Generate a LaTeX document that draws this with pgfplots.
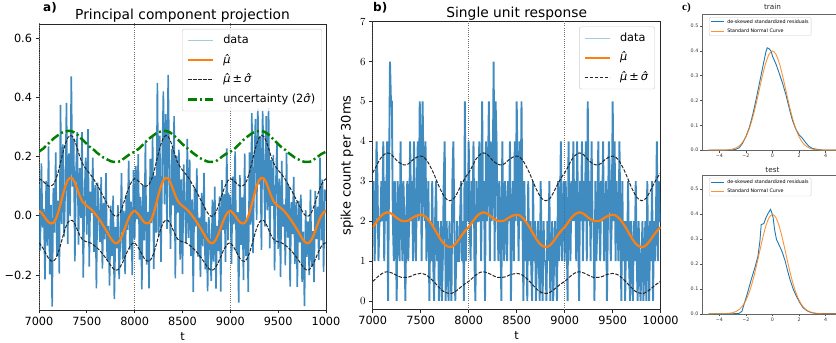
\documentclass[border=0pt]{standalone}
\usepackage{pgfplots}
\pgfplotsset{compat=1.18}
\usepackage{pgfplotstable}
\usepackage{fontspec}
\setmainfont{DejaVu Sans}
\newfontfamily\cserif{Liberation Serif}
\definecolor{tabblue}{RGB}{31,119,180}
\definecolor{taborange}{RGB}{255,127,14}
\definecolor{mplgreen}{RGB}{0,128,0}
\newcommand{\muhat}{\textit{^^^^03bc^^^^0302}}
\newcommand{\sighat}{\textit{^^^^03c3^^^^0302}}

\pgfplotstableread{
t mu up lo unc
7000 0.017 0.125 -0.091 0.216
7025 0.010 0.121 -0.101 0.222
7050 0.000 0.114 -0.114 0.228
7075 -0.012 0.106 -0.130 0.236
7100 -0.022 0.100 -0.144 0.244
7125 -0.026 0.100 -0.152 0.252
7150 -0.024 0.106 -0.154 0.260
7175 -0.012 0.121 -0.145 0.266
7200 0.010 0.146 -0.126 0.272
7225 0.040 0.179 -0.099 0.278
7250 0.072 0.213 -0.069 0.282
7275 0.100 0.242 -0.042 0.284
7300 0.120 0.263 -0.023 0.286
7325 0.128 0.271 -0.015 0.286
7350 0.126 0.268 -0.016 0.284
7375 0.112 0.252 -0.028 0.280
7400 0.090 0.227 -0.047 0.274
7425 0.068 0.201 -0.065 0.266
7450 0.050 0.179 -0.079 0.258
7475 0.040 0.165 -0.085 0.250
7500 0.033 0.154 -0.088 0.242
7525 0.027 0.144 -0.090 0.234
7550 0.020 0.134 -0.094 0.228
7575 0.011 0.122 -0.100 0.222
7600 0.001 0.108 -0.106 0.214
7625 -0.010 0.094 -0.114 0.208
7650 -0.022 0.079 -0.123 0.202
7675 -0.035 0.063 -0.133 0.196
7700 -0.048 0.048 -0.144 0.192
7725 -0.062 0.032 -0.156 0.188
7750 -0.076 0.016 -0.168 0.184
7775 -0.087 0.004 -0.178 0.182
7800 -0.093 -0.002 -0.184 0.182
7825 -0.091 0.000 -0.182 0.182
7850 -0.080 0.012 -0.172 0.184
7875 -0.062 0.033 -0.157 0.190
7900 -0.040 0.058 -0.138 0.196
7925 -0.018 0.083 -0.119 0.202
7950 0.000 0.104 -0.104 0.208
7975 0.012 0.118 -0.094 0.212
8000 0.017 0.125 -0.091 0.216
8025 0.010 0.121 -0.101 0.222
8050 0.000 0.114 -0.114 0.228
8075 -0.012 0.106 -0.130 0.236
8100 -0.022 0.100 -0.144 0.244
8125 -0.026 0.100 -0.152 0.252
8150 -0.024 0.106 -0.154 0.260
8175 -0.012 0.121 -0.145 0.266
8200 0.010 0.146 -0.126 0.272
8225 0.040 0.179 -0.099 0.278
8250 0.072 0.213 -0.069 0.282
8275 0.100 0.242 -0.042 0.284
8300 0.120 0.263 -0.023 0.286
8325 0.128 0.271 -0.015 0.286
8350 0.126 0.268 -0.016 0.284
8375 0.112 0.252 -0.028 0.280
8400 0.090 0.227 -0.047 0.274
8425 0.068 0.201 -0.065 0.266
8450 0.050 0.179 -0.079 0.258
8475 0.040 0.165 -0.085 0.250
8500 0.033 0.154 -0.088 0.242
8525 0.027 0.144 -0.090 0.234
8550 0.020 0.134 -0.094 0.228
8575 0.011 0.122 -0.100 0.222
8600 0.001 0.108 -0.106 0.214
8625 -0.010 0.094 -0.114 0.208
8650 -0.022 0.079 -0.123 0.202
8675 -0.035 0.063 -0.133 0.196
8700 -0.048 0.048 -0.144 0.192
8725 -0.062 0.032 -0.156 0.188
8750 -0.076 0.016 -0.168 0.184
8775 -0.087 0.004 -0.178 0.182
8800 -0.093 -0.002 -0.184 0.182
8825 -0.091 0.000 -0.182 0.182
8850 -0.080 0.012 -0.172 0.184
8875 -0.062 0.033 -0.157 0.190
8900 -0.040 0.058 -0.138 0.196
8925 -0.018 0.083 -0.119 0.202
8950 0.000 0.104 -0.104 0.208
8975 0.012 0.118 -0.094 0.212
9000 0.017 0.125 -0.091 0.216
9025 0.010 0.121 -0.101 0.222
9050 0.000 0.114 -0.114 0.228
9075 -0.012 0.106 -0.130 0.236
9100 -0.022 0.100 -0.144 0.244
9125 -0.026 0.100 -0.152 0.252
9150 -0.024 0.106 -0.154 0.260
9175 -0.012 0.121 -0.145 0.266
9200 0.010 0.146 -0.126 0.272
9225 0.040 0.179 -0.099 0.278
9250 0.072 0.213 -0.069 0.282
9275 0.100 0.242 -0.042 0.284
9300 0.120 0.263 -0.023 0.286
9325 0.128 0.271 -0.015 0.286
9350 0.126 0.268 -0.016 0.284
9375 0.112 0.252 -0.028 0.280
9400 0.090 0.227 -0.047 0.274
9425 0.068 0.201 -0.065 0.266
9450 0.050 0.179 -0.079 0.258
9475 0.040 0.165 -0.085 0.250
9500 0.033 0.154 -0.088 0.242
9525 0.027 0.144 -0.090 0.234
9550 0.020 0.134 -0.094 0.228
9575 0.011 0.122 -0.100 0.222
9600 0.001 0.108 -0.106 0.214
9625 -0.010 0.094 -0.114 0.208
9650 -0.022 0.079 -0.123 0.202
9675 -0.035 0.063 -0.133 0.196
9700 -0.048 0.048 -0.144 0.192
9725 -0.062 0.032 -0.156 0.188
9750 -0.076 0.016 -0.168 0.184
9775 -0.087 0.004 -0.178 0.182
9800 -0.093 -0.002 -0.184 0.182
9825 -0.091 0.000 -0.182 0.182
9850 -0.080 0.012 -0.172 0.184
9875 -0.062 0.033 -0.157 0.190
9900 -0.040 0.058 -0.138 0.196
9925 -0.018 0.083 -0.119 0.202
9950 0.000 0.104 -0.104 0.208
9975 0.012 0.118 -0.094 0.212
10000 0.017 0.125 -0.091 0.216
}\modela

\pgfplotstableread{
t mu up lo
7000 1.85 3.21 0.49
7025 1.93 3.32 0.54
7050 2.02 3.44 0.60
7075 2.10 3.55 0.65
7100 2.16 3.63 0.69
7125 2.20 3.68 0.72
7150 2.22 3.71 0.73
7175 2.21 3.70 0.72
7200 2.18 3.66 0.70
7225 2.13 3.59 0.67
7250 2.08 3.52 0.64
7275 2.04 3.47 0.61
7300 2.01 3.43 0.59
7325 2.00 3.41 0.59
7350 2.00 3.41 0.59
7375 2.02 3.44 0.60
7400 2.06 3.50 0.62
7425 2.10 3.55 0.65
7450 2.13 3.59 0.67
7475 2.15 3.62 0.68
7500 2.16 3.63 0.69
7525 2.15 3.62 0.68
7550 2.11 3.56 0.66
7575 2.05 3.48 0.62
7600 1.97 3.37 0.57
7625 1.88 3.25 0.51
7650 1.78 3.11 0.45
7675 1.67 2.96 0.38
7700 1.57 2.82 0.32
7725 1.48 2.70 0.26
7750 1.41 2.60 0.22
7775 1.37 2.54 0.20
7800 1.35 2.51 0.19
7825 1.36 2.53 0.19
7850 1.40 2.58 0.22
7875 1.47 2.68 0.26
7900 1.55 2.80 0.31
7925 1.64 2.92 0.36
7950 1.72 3.03 0.41
7975 1.79 3.13 0.45
8000 1.85 3.21 0.49
8025 1.93 3.32 0.54
8050 2.02 3.44 0.60
8075 2.10 3.55 0.65
8100 2.16 3.63 0.69
8125 2.20 3.68 0.72
8150 2.22 3.71 0.73
8175 2.21 3.70 0.72
8200 2.18 3.66 0.70
8225 2.13 3.59 0.67
8250 2.08 3.52 0.64
8275 2.04 3.47 0.61
8300 2.01 3.43 0.59
8325 2.00 3.41 0.59
8350 2.00 3.41 0.59
8375 2.02 3.44 0.60
8400 2.06 3.50 0.62
8425 2.10 3.55 0.65
8450 2.13 3.59 0.67
8475 2.15 3.62 0.68
8500 2.16 3.63 0.69
8525 2.15 3.62 0.68
8550 2.11 3.56 0.66
8575 2.05 3.48 0.62
8600 1.97 3.37 0.57
8625 1.88 3.25 0.51
8650 1.78 3.11 0.45
8675 1.67 2.96 0.38
8700 1.57 2.82 0.32
8725 1.48 2.70 0.26
8750 1.41 2.60 0.22
8775 1.37 2.54 0.20
8800 1.35 2.51 0.19
8825 1.36 2.53 0.19
8850 1.40 2.58 0.22
8875 1.47 2.68 0.26
8900 1.55 2.80 0.31
8925 1.64 2.92 0.36
8950 1.72 3.03 0.41
8975 1.79 3.13 0.45
9000 1.85 3.21 0.49
9025 1.93 3.32 0.54
9050 2.02 3.44 0.60
9075 2.10 3.55 0.65
9100 2.16 3.63 0.69
9125 2.20 3.68 0.72
9150 2.22 3.71 0.73
9175 2.21 3.70 0.72
9200 2.18 3.66 0.70
9225 2.13 3.59 0.67
9250 2.08 3.52 0.64
9275 2.04 3.47 0.61
9300 2.01 3.43 0.59
9325 2.00 3.41 0.59
9350 2.00 3.41 0.59
9375 2.02 3.44 0.60
9400 2.06 3.50 0.62
9425 2.10 3.55 0.65
9450 2.13 3.59 0.67
9475 2.15 3.62 0.68
9500 2.16 3.63 0.69
9525 2.15 3.62 0.68
9550 2.11 3.56 0.66
9575 2.05 3.48 0.62
9600 1.97 3.37 0.57
9625 1.88 3.25 0.51
9650 1.78 3.11 0.45
9675 1.67 2.96 0.38
9700 1.57 2.82 0.32
9725 1.48 2.70 0.26
9750 1.41 2.60 0.22
9775 1.37 2.54 0.20
9800 1.35 2.51 0.19
9825 1.36 2.53 0.19
9850 1.40 2.58 0.22
9875 1.47 2.68 0.26
9900 1.55 2.80 0.31
9925 1.64 2.92 0.36
9950 1.72 3.03 0.41
9975 1.79 3.13 0.45
10000 1.85 3.21 0.49
}\modelb

\pgfplotstableread[row sep=\\]{
t y\\
7000 0.103\\ 7012.5 -0.118\\ 7025 0.177\\ 7037.5 -0.040\\ 7050 0.023\\ 7062.5 -0.215\\ 7075 0.118\\ 7087.5 -0.101\\
7100 0.234\\ 7112.5 -0.198\\ 7125 0.037\\ 7137.5 -0.307\\ 7150 0.093\\ 7162.5 -0.057\\ 7175 0.214\\ 7187.5 -0.136\\
7200 0.051\\ 7212.5 -0.195\\ 7225 0.374\\ 7237.5 -0.028\\ 7250 0.241\\ 7262.5 -0.070\\ 7275 0.100\\ 7287.5 0.381\\
7300 -0.095\\ 7312.5 0.210\\ 7325 -0.001\\ 7337.5 0.470\\ 7350 0.098\\ 7362.5 0.260\\ 7375 -0.154\\ 7387.5 0.156\\
7400 0.282\\ 7412.5 -0.097\\ 7425 0.161\\ 7437.5 -0.007\\ 7450 0.282\\ 7462.5 -0.209\\ 7475 0.053\\ 7487.5 0.196\\
7500 -0.064\\ 7512.5 0.292\\ 7525 -0.172\\ 7537.5 0.081\\ 7550 0.009\\ 7562.5 0.196\\ 7575 -0.122\\ 7587.5 0.104\\
7600 -0.245\\ 7612.5 0.112\\ 7625 0.011\\ 7637.5 -0.088\\ 7650 0.130\\ 7662.5 -0.178\\ 7675 0.043\\ 7687.5 -0.080\\
7700 0.144\\ 7712.5 -0.150\\ 7725 -0.034\\ 7737.5 -0.236\\ 7750 0.034\\ 7762.5 -0.136\\ 7775 0.068\\ 7787.5 -0.281\\
7800 -0.038\\ 7812.5 -0.110\\ 7825 0.036\\ 7837.5 -0.214\\ 7850 -0.080\\ 7862.5 0.144\\ 7875 -0.148\\ 7887.5 0.017\\
7900 -0.197\\ 7912.5 0.071\\ 7925 -0.048\\ 7937.5 0.186\\ 7950 -0.114\\ 7962.5 0.048\\ 7975 -0.200\\ 7987.5 0.154\\
8000 -0.080\\ 8012.5 0.167\\ 8025 -0.012\\ 8037.5 0.208\\ 8050 -0.148\\ 8062.5 0.064\\ 8075 -0.248\\ 8087.5 0.103\\
8100 -0.083\\ 8112.5 0.249\\ 8125 -0.165\\ 8137.5 0.013\\ 8150 -0.245\\ 8162.5 0.192\\ 8175 -0.025\\ 8187.5 0.268\\
8200 -0.180\\ 8212.5 0.135\\ 8225 -0.057\\ 8237.5 0.448\\ 8250 -0.069\\ 8262.5 0.270\\ 8275 -0.156\\ 8287.5 0.167\\
8300 0.420\\ 8312.5 0.038\\ 8325 0.343\\ 8337.5 -0.044\\ 8350 0.475\\ 8362.5 0.147\\ 8375 -0.112\\ 8387.5 0.226\\
8400 0.035\\ 8412.5 0.336\\ 8425 -0.211\\ 8437.5 0.203\\ 8450 0.011\\ 8462.5 0.223\\ 8475 -0.148\\ 8487.5 0.123\\
8500 -0.197\\ 8512.5 0.173\\ 8525 0.027\\ 8537.5 -0.092\\ 8550 0.259\\ 8562.5 -0.075\\ 8575 0.189\\ 8587.5 -0.136\\
8600 0.055\\ 8612.5 -0.258\\ 8625 0.094\\ 8637.5 -0.037\\ 8650 0.160\\ 8662.5 -0.138\\ 8675 -0.006\\ 8687.5 -0.206\\
8700 0.077\\ 8712.5 -0.103\\ 8725 0.145\\ 8737.5 -0.181\\ 8750 -0.021\\ 8762.5 -0.255\\ 8775 -0.005\\ 8787.5 -0.081\\
8800 -0.220\\ 8812.5 0.054\\ 8825 -0.155\\ 8837.5 0.098\\ 8850 -0.246\\ 8862.5 -0.034\\ 8875 -0.119\\ 8887.5 0.065\\
8900 -0.256\\ 8912.5 0.120\\ 8925 -0.048\\ 8937.5 0.073\\ 8950 -0.156\\ 8962.5 0.227\\ 8975 -0.083\\ 8987.5 0.068\\
9000 0.060\\ 9012.5 -0.162\\ 9025 0.132\\ 9037.5 -0.029\\ 9050 0.217\\ 9062.5 -0.122\\ 9075 0.012\\ 9087.5 -0.293\\
9100 0.137\\ 9112.5 -0.098\\ 9125 0.062\\ 9137.5 -0.217\\ 9150 0.210\\ 9162.5 -0.136\\ 9175 -0.012\\ 9187.5 -0.257\\
9200 0.214\\ 9212.5 -0.030\\ 9225 0.346\\ 9237.5 -0.126\\ 9250 0.157\\ 9262.5 0.327\\ 9275 -0.014\\ 9287.5 0.360\\
9300 0.106\\ 9312.5 0.267\\ 9325 -0.115\\ 9337.5 0.355\\ 9350 0.169\\ 9362.5 -0.036\\ 9375 0.336\\ 9387.5 0.018\\
9400 0.364\\ 9412.5 -0.110\\ 9425 0.188\\ 9437.5 0.033\\ 9450 0.205\\ 9462.5 -0.184\\ 9475 0.103\\ 9487.5 0.246\\
9500 -0.112\\ 9512.5 0.125\\ 9525 -0.207\\ 9537.5 0.185\\ 9550 -0.037\\ 9562.5 0.038\\ 9575 -0.167\\ 9587.5 0.213\\
9600 -0.074\\ 9612.5 0.101\\ 9625 -0.239\\ 9637.5 0.046\\ 9650 -0.062\\ 9662.5 0.131\\ 9675 -0.162\\ 9687.5 0.046\\
9700 -0.240\\ 9712.5 0.050\\ 9725 -0.090\\ 9737.5 0.071\\ 9750 -0.223\\ 9762.5 -0.054\\ 9775 -0.305\\ 9787.5 0.019\\
9800 -0.139\\ 9812.5 -0.019\\ 9825 -0.200\\ 9837.5 0.088\\ 9850 -0.172\\ 9862.5 -0.052\\ 9875 -0.224\\ 9887.5 0.084\\
9900 -0.079\\ 9912.5 0.031\\ 9925 -0.149\\ 9937.5 0.196\\ 9950 -0.083\\ 9962.5 0.122\\ 9975 -0.189\\ 9987.5 0.089\\
10000 0.050\\
}\dataa

\pgfplotstableread[row sep=\\]{
t c\\
7000 2\\ 7010 3\\ 7020 1\\ 7030 2\\ 7040 4\\ 7050 3\\ 7060 1\\ 7070 2\\ 7080 2\\ 7090 3\\
7100 2\\ 7110 4\\ 7120 1\\ 7130 3\\ 7140 2\\ 7150 4\\ 7160 0\\ 7170 3\\ 7180 6\\ 7190 5\\
7200 5\\ 7210 2\\ 7220 1\\ 7230 3\\ 7240 2\\ 7250 0\\ 7260 3\\ 7270 2\\ 7280 1\\ 7290 4\\
7300 2\\ 7310 1\\ 7320 3\\ 7330 2\\ 7340 0\\ 7350 2\\ 7360 3\\ 7370 1\\ 7380 2\\ 7390 4\\
7400 2\\ 7410 3\\ 7420 1\\ 7430 4\\ 7440 2\\ 7450 1\\ 7460 3\\ 7470 4\\ 7480 2\\ 7490 5\\
7500 4\\ 7510 1\\ 7520 5\\ 7530 3\\ 7540 2\\ 7550 4\\ 7560 1\\ 7570 2\\ 7580 3\\ 7590 0\\
7600 2\\ 7610 1\\ 7620 3\\ 7630 1\\ 7640 0\\ 7650 2\\ 7660 3\\ 7670 1\\ 7680 2\\ 7690 0\\
7700 1\\ 7710 2\\ 7720 0\\ 7730 1\\ 7740 3\\ 7750 4\\ 7760 0\\ 7770 2\\ 7780 1\\ 7790 0\\
7800 2\\ 7810 1\\ 7820 0\\ 7830 3\\ 7840 4\\ 7850 2\\ 7860 0\\ 7870 1\\ 7880 2\\ 7890 1\\
7900 1\\ 7910 2\\ 7920 3\\ 7930 1\\ 7940 2\\ 7950 0\\ 7960 5\\ 7970 1\\ 7980 3\\ 7990 2\\
8000 4\\ 8010 2\\ 8020 1\\ 8030 3\\ 8040 2\\ 8050 4\\ 8060 1\\ 8070 0\\ 8080 3\\ 8090 2\\
8100 2\\ 8110 4\\ 8120 3\\ 8130 1\\ 8140 5\\ 8150 2\\ 8160 3\\ 8170 0\\ 8180 4\\ 8190 2\\
8200 3\\ 8210 5\\ 8220 1\\ 8230 4\\ 8240 2\\ 8250 3\\ 8260 6\\ 8270 1\\ 8280 5\\ 8290 4\\
8300 2\\ 8310 1\\ 8320 3\\ 8330 2\\ 8340 0\\ 8350 4\\ 8360 2\\ 8370 1\\ 8380 3\\ 8390 2\\
8400 1\\ 8410 3\\ 8420 2\\ 8430 4\\ 8440 0\\ 8450 2\\ 8460 3\\ 8470 1\\ 8480 4\\ 8490 2\\
8500 5\\ 8510 3\\ 8520 1\\ 8530 4\\ 8540 2\\ 8550 5\\ 8560 2\\ 8570 0\\ 8580 3\\ 8590 1\\
8600 2\\ 8610 0\\ 8620 3\\ 8630 1\\ 8640 2\\ 8650 1\\ 8660 0\\ 8670 3\\ 8680 1\\ 8690 2\\
8700 0\\ 8710 1\\ 8720 2\\ 8730 1\\ 8740 0\\ 8750 3\\ 8760 1\\ 8770 0\\ 8780 2\\ 8790 1\\
8800 1\\ 8810 0\\ 8820 2\\ 8830 1\\ 8840 3\\ 8850 0\\ 8860 1\\ 8870 2\\ 8880 0\\ 8890 1\\
8900 2\\ 8910 1\\ 8920 0\\ 8930 3\\ 8940 1\\ 8950 2\\ 8960 4\\ 8970 1\\ 8980 2\\ 8990 3\\
9000 1\\ 9010 3\\ 9020 2\\ 9030 0\\ 9040 4\\ 9050 2\\ 9060 1\\ 9070 3\\ 9080 2\\ 9090 4\\
9100 2\\ 9110 3\\ 9120 1\\ 9130 4\\ 9140 2\\ 9150 0\\ 9160 3\\ 9170 2\\ 9180 4\\ 9190 1\\
9200 3\\ 9210 2\\ 9220 4\\ 9230 1\\ 9240 5\\ 9250 2\\ 9260 3\\ 9270 1\\ 9280 4\\ 9290 2\\
9300 2\\ 9310 0\\ 9320 3\\ 9330 1\\ 9340 2\\ 9350 4\\ 9360 2\\ 9370 1\\ 9380 3\\ 9390 2\\
9400 4\\ 9410 1\\ 9420 2\\ 9430 3\\ 9440 0\\ 9450 2\\ 9460 4\\ 9470 3\\ 9480 1\\ 9490 2\\
9500 5\\ 9510 2\\ 9520 4\\ 9530 1\\ 9540 3\\ 9550 2\\ 9560 1\\ 9570 4\\ 9580 2\\ 9590 0\\
9600 3\\ 9610 1\\ 9620 2\\ 9630 0\\ 9640 2\\ 9650 1\\ 9660 3\\ 9670 1\\ 9680 0\\ 9690 2\\
9700 1\\ 9710 0\\ 9720 2\\ 9730 1\\ 9740 3\\ 9750 1\\ 9760 0\\ 9770 2\\ 9780 1\\ 9790 0\\
9800 1\\ 9810 2\\ 9820 0\\ 9830 1\\ 9840 2\\ 9850 0\\ 9860 3\\ 9870 1\\ 9880 0\\ 9890 2\\
9900 1\\ 9910 3\\ 9920 0\\ 9930 2\\ 9940 1\\ 9950 2\\ 9960 4\\ 9970 1\\ 9980 3\\ 9990 2\\
10000 2\\
}\datab

\pgfplotsset{
  mplbase/.style={
    scale only axis, anchor=south west,
    scaled x ticks=false, scaled y ticks=false,
    tick pos=left, tick align=outside,
    major tick length=3.5bp,
    axis line style={black!85, line width=0.8bp},
    every tick/.style={black!85, line width=0.8bp},
    ticklabel style={font=\fontsize{11.3bp}{13bp}\selectfont},
    label style={font=\fontsize{11.3bp}{13bp}\selectfont},
    every axis title/.style={at={(0.5,1)}, anchor=base, font=\fontsize{13.8bp}{16bp}\selectfont},
    legend cell align=left,
    legend style={draw=black!20, rounded corners=2bp, fill=white, fill opacity=0.8, text opacity=1,
      font=\fontsize{11.3bp}{13bp}\selectfont,
      nodes={text height=8.5bp, text depth=2.5bp, inner sep=2bp},
      row sep=4.6bp, inner xsep=4.5bp, inner ysep=4bp,
      /tikz/every odd column/.append style={column sep=7bp}},
    legend image code/.code={\draw[##1] (0bp,0bp) -- (25bp,0bp);},
  },
  smallbase/.style={
    scale only axis, anchor=south west,
    tick pos=left, tick align=outside,
    major tick length=2bp,
    axis line style={black!60, line width=0.5bp},
    every tick/.style={black!70, line width=0.5bp},
    ticklabel style={font=\fontsize{4.8bp}{5.5bp}\selectfont, text=black!80, inner sep=1.5bp},
    every axis title/.style={at={(0.5,1)}, anchor=base, font=\fontsize{7.3bp}{8.5bp}\selectfont, text=black!85},
    xmin=-5.3, xmax=5.3, ymin=-0.002,
    xtick={-4,-2,0,2,4}, xticklabels={−4,−2,0,2,4},
    ytick={0,0.1,0.2,0.3,0.4,0.5}, yticklabels={0.0,0.1,0.2,0.3,0.4,0.5},
    legend cell align=left,
    legend style={draw=black!20, rounded corners=1bp, fill=white, text opacity=1,
      font=\fontsize{4.8bp}{5.5bp}\selectfont,
      nodes={text height=3.6bp, text depth=1.1bp, inner sep=1bp},
      row sep=2.6bp, inner xsep=1.5bp, inner ysep=1bp,
      /tikz/every odd column/.append style={column sep=2bp}},
    legend image code/.code={\draw[##1] (0bp,0bp) -- (12.6bp,0bp);},
  },
}

\begin{document}
\begin{tikzpicture}
\useasboundingbox (0,0) rectangle (836bp,343bp);
\clip (0,0) rectangle (836bp,343bp);

% ---------- panel a ----------
\begin{axis}[mplbase,
  at={(39bp,33bp)}, width=287bp, height=286bp,
  xmin=7000, xmax=10000, ymin=-0.318, ymax=0.647,
  xtick={7000,7500,8000,8500,9000,9500,10000},
  xticklabels={7000,7500,8000,8500,9000,9500,1000},
  ytick={-0.2,0,0.2,0.4,0.6}, yticklabels={−0.2,0.0,0.2,0.4,0.6},
  xlabel={t},
  title={Principal component projection}, title style={yshift=4.5bp},
  legend style={at={(0.986,0.9825)}, anchor=north east},
]
\addplot[forget plot, black!55, line width=0.8bp, dash pattern=on 0.8bp off 1.4bp] coordinates {(7000,-1) (7000,1)};
\addplot[forget plot, black!55, line width=0.8bp, dash pattern=on 0.8bp off 1.4bp] coordinates {(8000,-1) (8000,1)};
\addplot[forget plot, black!55, line width=0.8bp, dash pattern=on 0.8bp off 1.4bp] coordinates {(9000,-1) (9000,1)};
\addplot[tabblue, draw opacity=0.85, line width=1.6bp, legend image post style={draw opacity=0.4, line width=0.9bp}] table[x=t, y=y] {\dataa};
\addlegendentry{data}
\addplot[taborange, line width=2.2bp] table[x=t, y=mu] {\modela};
\addlegendentry{\muhat}
\addplot[black!85, line width=1bp, dash pattern=on 3.5bp off 1.5bp] table[x=t, y=up] {\modela};
\addlegendentry{\muhat\,±\,\sighat}
\addplot[forget plot, black!85, line width=1bp, dash pattern=on 3.5bp off 1.5bp] table[x=t, y=lo] {\modela};
\addplot[mplgreen, line width=2.5bp, dash pattern=on 9bp off 3bp on 2bp off 3bp] table[x=t, y=unc] {\modela};
\addlegendentry{uncertainty (2\sighat)}
\end{axis}

% ---------- panel b ----------
\begin{axis}[mplbase,
  at={(372.7bp,33.7bp)}, width=288bp, height=287.6bp,
  xmin=7000, xmax=10000, ymin=-0.21, ymax=7,
  xtick={7000,7500,8000,8500,9000,9500,10000},
  xticklabels={7000,7500,8000,8500,9000,9500,10000},
  ytick={0,1,2,3,4,5,6,7},
  xlabel={t}, ylabel={spike count per 30ms},
  ylabel style={font=\fontsize{13bp}{15bp}\selectfont},
  title={Single unit response}, title style={yshift=4bp},
  legend style={at={(0.980,0.983)}, anchor=north east},
]
\addplot[forget plot, black!55, line width=0.8bp, dash pattern=on 0.8bp off 1.4bp] coordinates {(7000,-1) (7000,8)};
\addplot[forget plot, black!55, line width=0.8bp, dash pattern=on 0.8bp off 1.4bp] coordinates {(8000,-1) (8000,8)};
\addplot[forget plot, black!55, line width=0.8bp, dash pattern=on 0.8bp off 1.4bp] coordinates {(9000,-1) (9000,8)};
\addplot[tabblue, draw opacity=0.85, line width=1.9bp, legend image post style={draw opacity=0.4, line width=0.9bp}] table[x=t, y=c] {\datab};
\addlegendentry{data}
\addplot[taborange, line width=2.2bp] table[x=t, y=mu] {\modelb};
\addlegendentry{\muhat}
\addplot[black!85, line width=1bp, dash pattern=on 3.5bp off 1.5bp] table[x=t, y=up] {\modelb};
\addlegendentry{\muhat\,±\,\sighat}
\addplot[forget plot, black!85, line width=1bp, dash pattern=on 3.5bp off 1.5bp] table[x=t, y=lo] {\modelb};
\end{axis}

% ---------- panel c top ----------
\begin{axis}[smallbase,
  at={(702bp,192.3bp)}, width=141bp, height=136.7bp,
  ymax=0.548,
  title={train}, title style={yshift=4.6bp},
  legend style={at={(0.05,0.976)}, anchor=north west},
]
\addplot[tabblue, line width=0.9bp] coordinates {
(-4.8,0) (-3.5,0) (-3.0,0.001) (-2.75,0.004) (-2.5,0.010) (-2.25,0.028) (-2.0,0.055)
(-1.75,0.090) (-1.5,0.140) (-1.25,0.200) (-1.0,0.265) (-0.75,0.330) (-0.5,0.395)
(-0.4,0.412) (-0.25,0.408) (-0.1,0.398) (0.0,0.378) (0.25,0.348) (0.5,0.310)
(0.75,0.270) (1.0,0.225) (1.25,0.170) (1.5,0.120) (1.75,0.085) (2.0,0.062)
(2.25,0.048) (2.5,0.030) (2.75,0.015) (3.0,0.007) (3.5,0.002) (4.0,0) (5.3,0)};
\addlegendentry{de-skewed standardized residuals}
\addplot[taborange, line width=0.9bp, draw opacity=0.85, smooth] coordinates {
(-4.8,0) (-4.0,0.0001) (-3.5,0.0009) (-3.0,0.0044) (-2.75,0.0091) (-2.5,0.0175)
(-2.25,0.0317) (-2.0,0.0540) (-1.75,0.0863) (-1.5,0.1295) (-1.25,0.1826) (-1.0,0.2420)
(-0.75,0.3011) (-0.5,0.3521) (-0.25,0.3867) (0,0.3989) (0.25,0.3867) (0.5,0.3521)
(0.75,0.3011) (1.0,0.2420) (1.25,0.1826) (1.5,0.1295) (1.75,0.0863) (2.0,0.0540)
(2.25,0.0317) (2.5,0.0175) (2.75,0.0091) (3.0,0.0044) (3.5,0.0009) (4.0,0.0001) (4.8,0) (5.3,0)};
\addlegendentry{Standard Normal Curve}
\end{axis}

% ---------- panel c bottom ----------
\begin{axis}[smallbase,
  at={(702bp,28.7bp)}, width=141bp, height=139.3bp,
  ymax=0.557,
  title={test}, title style={yshift=2.5bp},
  legend style={at={(0.05,0.98)}, anchor=north west},
]
\addplot[tabblue, line width=0.9bp] coordinates {
(-4.8,0) (-3.0,0) (-2.5,0.002) (-2.3,0.010) (-2.1,0.045) (-1.9,0.080) (-1.6,0.137)
(-1.3,0.190) (-1.1,0.230) (-0.95,0.290) (-0.85,0.358) (-0.65,0.362) (-0.5,0.385)
(-0.33,0.403) (-0.15,0.419) (-0.05,0.405) (0.05,0.385) (0.15,0.340) (0.3,0.298)
(0.55,0.270) (0.75,0.245) (0.95,0.212) (1.1,0.180) (1.3,0.140) (1.55,0.100)
(1.8,0.070) (2.05,0.045) (2.3,0.024) (2.6,0.012) (2.9,0.005) (3.3,0.001) (4.0,0.001) (5.3,0)};
\addlegendentry{de-skewed standardized residuals}
\addplot[taborange, line width=0.9bp, draw opacity=0.85, smooth] coordinates {
(-4.8,0) (-4.0,0.0001) (-3.5,0.0009) (-3.0,0.0044) (-2.75,0.0091) (-2.5,0.0175)
(-2.25,0.0317) (-2.0,0.0540) (-1.75,0.0863) (-1.5,0.1295) (-1.25,0.1826) (-1.0,0.2420)
(-0.75,0.3011) (-0.5,0.3521) (-0.25,0.3867) (0,0.3989) (0.25,0.3867) (0.5,0.3521)
(0.75,0.3011) (1.0,0.2420) (1.25,0.1826) (1.5,0.1295) (1.75,0.0863) (2.0,0.0540)
(2.25,0.0317) (2.5,0.0175) (2.75,0.0091) (3.0,0.0044) (3.5,0.0009) (4.0,0.0001) (4.8,0) (5.3,0)};
\addlegendentry{Standard Normal Curve}
\end{axis}

% panel letters
\node[font=\bfseries\fontsize{12bp}{14bp}\selectfont, anchor=base west, inner sep=0pt] at (43bp,331bp) {a)};
\node[font=\bfseries\fontsize{12bp}{14bp}\selectfont, anchor=base west, inner sep=0pt] at (373bp,331bp) {b)};
\node[font=\cserif\bfseries\fontsize{11bp}{13bp}\selectfont, anchor=base west, inner sep=0pt] at (682bp,332bp) {c)};
\end{tikzpicture}
\end{document}
